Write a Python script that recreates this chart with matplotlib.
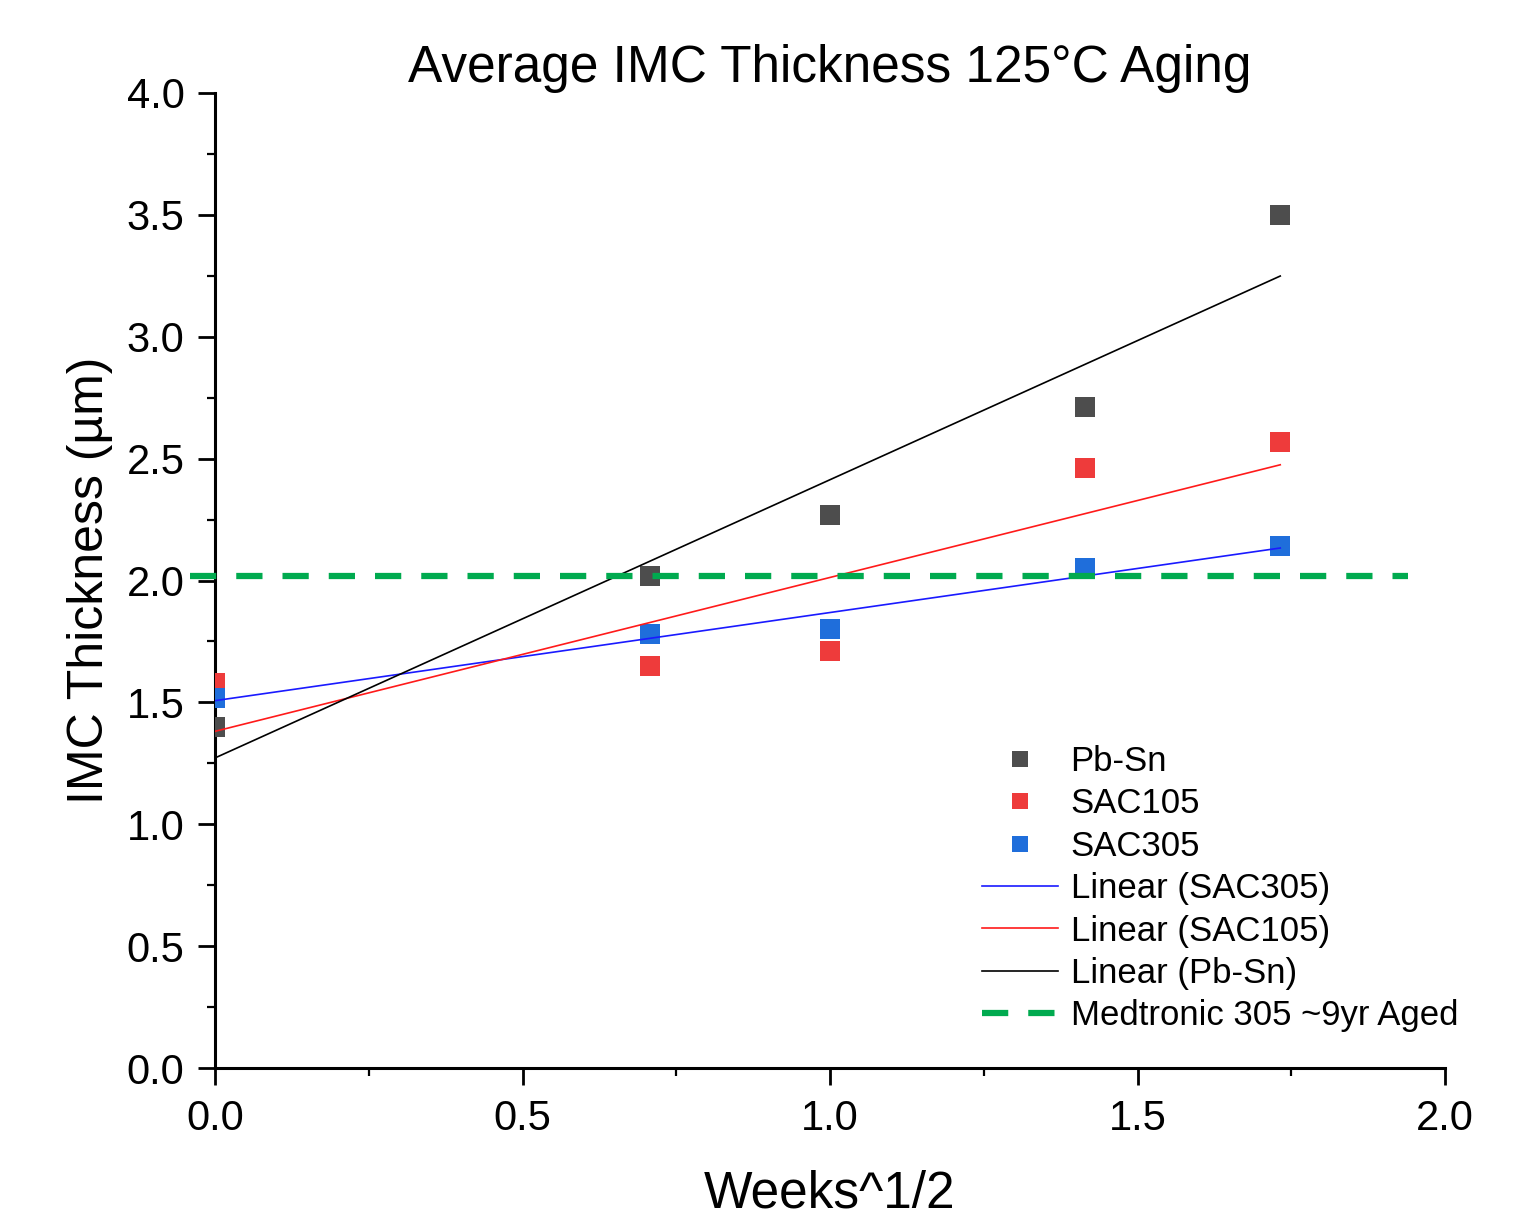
import numpy as np
import matplotlib
matplotlib.use("Agg")
import matplotlib.pyplot as plt

plt.rcParams['font.family'] = ['Liberation Sans', 'DejaVu Sans']

# Data
x_weeks_sqrt = [0.0, 0.7071, 1.0, 1.4142, 1.7321]
pbsn = [1.40, 2.02, 2.27, 2.71, 3.50]
sac105 = [1.58, 1.65, 1.71, 2.46, 2.57]
sac305 = [1.52, 1.78, 1.80, 2.05, 2.14]
medtronic_level = 2.02
medtronic_x = [-0.04, 1.94]

xticks = [0.0, 0.5, 1.0, 1.5, 2.0]
yticks = [0.0, 0.5, 1.0, 1.5, 2.0, 2.5, 3.0, 3.5, 4.0]

c_gray = '#4d4d4d'
c_red = '#ee3b3b'
c_blue = '#1f6edb'
c_green = '#00aa4f'

fig = plt.figure(figsize=(15.34, 12.28), dpi=100)
ax = fig.add_axes([215/1534, 1-1068/1228, (1445-215)/1534, (1068-93)/1228])

xs = np.array(x_weeks_sqrt)
fits = {}
for name, ys in [('Pb-Sn', pbsn), ('SAC105', sac105), ('SAC305', sac305)]:
    fits[name] = np.polyfit(xs, np.array(ys), 1)

ms = 15
h_pb, = ax.plot(xs, pbsn, 's', color=c_gray, ms=ms, mew=0, label='Pb-Sn', zorder=3)
h_105, = ax.plot(xs, sac105, 's', color=c_red, ms=ms, mew=0, label='SAC105', zorder=3)
h_305, = ax.plot(xs, sac305, 's', color=c_blue, ms=ms, mew=0, label='SAC305', zorder=3)

xl = np.array([xs.min(), xs.max()])
l305, = ax.plot(xl, np.polyval(fits['SAC305'], xl), color='#1a1aff', lw=1.2, label='Linear (SAC305)', zorder=4)
l105, = ax.plot(xl, np.polyval(fits['SAC105'], xl), color='#ff1a1a', lw=1.2, label='Linear (SAC105)', zorder=4)
lpb, = ax.plot(xl, np.polyval(fits['Pb-Sn'], xl), color='black', lw=1.2, label='Linear (Pb-Sn)', zorder=4)
lg, = ax.plot(medtronic_x, [medtronic_level]*2, color=c_green, lw=4.5, dashes=(4.2, 3.2),
              label='Medtronic 305 ~9yr Aged', clip_on=False, zorder=5)

ax.set_xlim(0, 2.0)
ax.set_ylim(0, 4.0)
ax.set_xticks(xticks)
ax.set_yticks(yticks)
ax.set_xticklabels([f'{v:.1f}' for v in xticks])
ax.set_yticklabels([f'{v:.1f}' for v in yticks])
ax.set_xticks(np.arange(0, 2.01, 0.25), minor=True)
ax.set_yticks(np.arange(0, 4.01, 0.25), minor=True)

for s in ['top', 'right']:
    ax.spines[s].set_visible(False)
for s in ['left', 'bottom']:
    ax.spines[s].set_linewidth(2.2)
ax.tick_params(which='major', direction='out', length=12, width=2.0, labelsize=30)
ax.tick_params(axis='y', which='major', pad=10)
ax.tick_params(axis='x', which='major', pad=10)
ax.tick_params(which='minor', direction='out', length=6, width=1.6)

ax.set_title('Average IMC Thickness 125°C Aging', fontsize=37, pad=4)
ax.set_xlabel('Weeks^1/2', fontsize=37, labelpad=22)
ax.set_ylabel('IMC Thickness (µm)', fontsize=36, labelpad=10)

leg = ax.legend(handles=[h_pb, h_105, h_305, l305, l105, lpb, lg],
                loc='upper left', bbox_to_anchor=(982/1534, 1-745/1228),
                bbox_transform=fig.transFigure, frameon=False, fontsize=25,
                markerscale=0.75, handlelength=2.2, handletextpad=0.35,
                labelspacing=0.27, borderpad=0, borderaxespad=0)

fig.savefig('out.png', dpi=100)
